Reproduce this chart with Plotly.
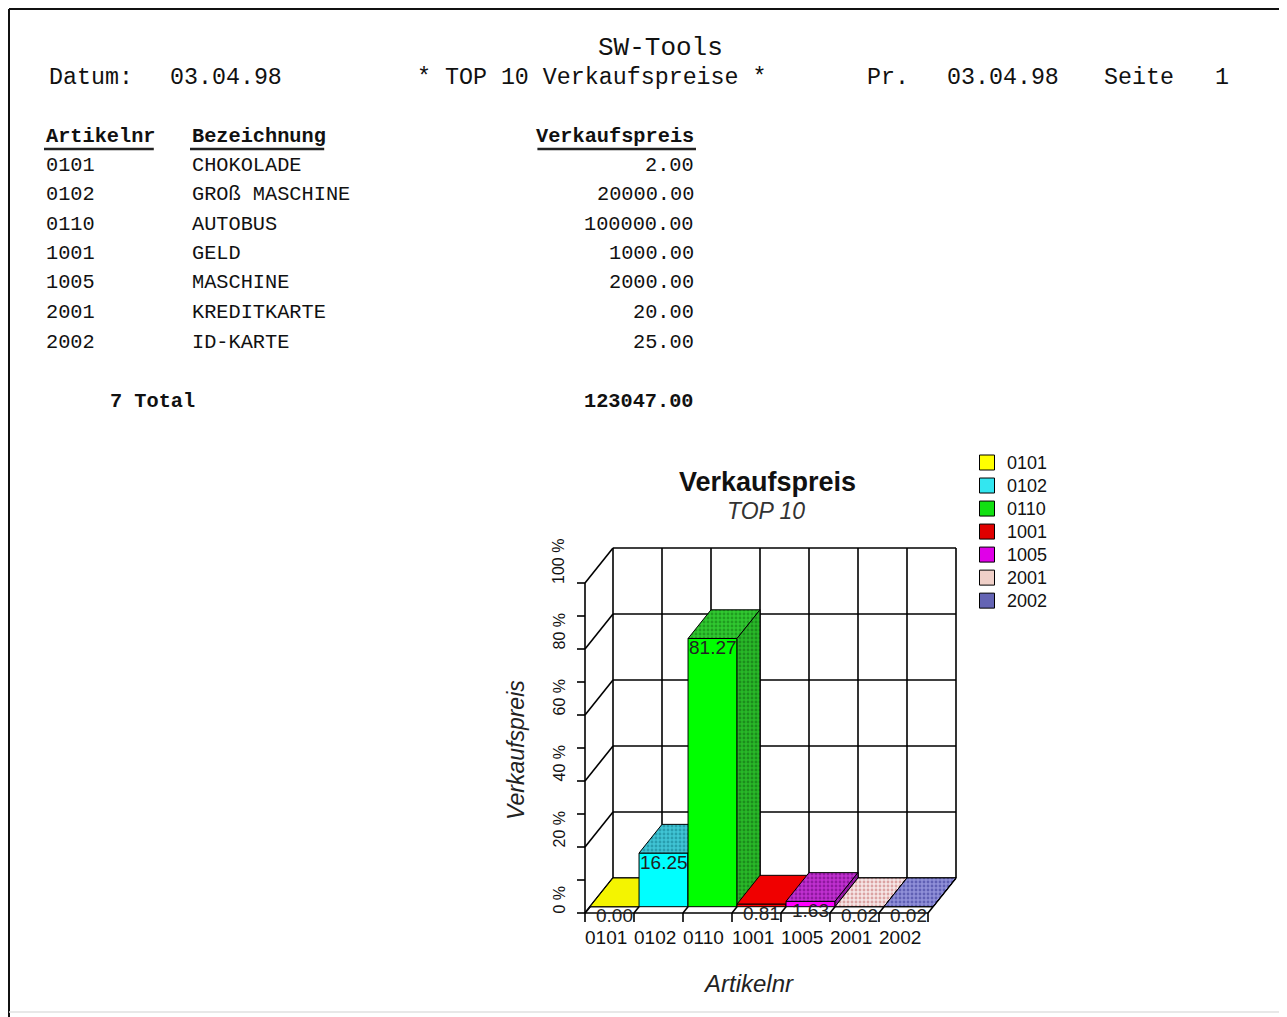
import plotly.graph_objects as go

# ---------------- data ----------------
artikelnr = ["0101", "0102", "0110", "1001", "1005", "2001", "2002"]
bezeichnung = ["CHOKOLADE", "GROß MASCHINE", "AUTOBUS", "GELD", "MASCHINE", "KREDITKARTE", "ID-KARTE"]
verkaufspreis = [2.00, 20000.00, 100000.00, 1000.00, 2000.00, 20.00, 25.00]
y_tick_values = [0, 20, 40, 60, 80, 100]
y_tick_labels = ["0 %", "20 %", "40 %", "60 %", "80 %", "100 %"]
y_minor_ticks = [0, 10, 20, 30, 40, 50, 60, 70, 80, 90, 100]
report_company = "SW-Tools"
report_title = "* TOP 10 Verkaufspreise *"
report_date = "03.04.98"
print_date = "03.04.98"
page_no = "1"
col_headers = ["Artikelnr", "Bezeichnung", "Verkaufspreis"]
chart_title = "Verkaufspreis"
chart_subtitle = "TOP 10"
x_title = "Artikelnr"
y_title = "Verkaufspreis"

total = sum(verkaufspreis)
percent = [v / total * 100.0 for v in verkaufspreis]

# ---------------- style ----------------
front_colors = ["#FFFF00", "#00FFFF", "#00FF00", "#FF0000", "#FF00FF", "#F4DCDC", "#7070C0"]
top_styles = [
    ("#F4F400", None), ("#40C4D4", "#107888"), ("#30C830", "#107010"), ("#F00000", None),
    ("#C030D0", "#600070"), ("#F6E6E6", "#C06060"), ("#9090D8", "#303090"),
]
side_styles = [
    ("#D8D800", None), ("#30A8B8", "#106070"), ("#28B828", "#106010"), ("#C00000", None),
    ("#A020B0", "#500060"), ("#F0E0E0", "#C08080"), ("#7070C0", "#202080"),
]
legend_colors = ["#FFFF00", "#33E6F0", "#11E011", "#E00000", "#E000E8", "#F0D0C8", "#6464B4"]

SCR_W, SCR_H = 1287, 1017
OFF = 8                                     # page body margin
PL, PR, PT, PB = 570, 962, 540, 930        # plot area in screen pixels
PW, PH = PR - PL, PB - PT
X0_PX, Y0_PX = 585, 913                     # front origin pixel
UX, UY = 49.0, 3.3                          # px per category, px per percent
DX, DY = 28 / UX, 35 / UY                   # depth offset in data units
F0 = 0.18                                   # bar front depth fraction
A, B = F0 * DX, F0 * DY
NCAT = len(artikelnr)

mono = "Liberation Mono, Courier New, monospace"
sans = "Liberation Sans, Arial, sans-serif"


def X(px):
    return (px - PL) / PW


def Y(py):
    return (PB - py) / PH


fig = go.Figure()

# ---------------- chart frame / grid ----------------
gx, gy = [], []
for v in y_tick_values:                    # back wall horizontals
    gx += [DX, DX + NCAT, None]
    gy += [v + DY, v + DY, None]
for k in range(NCAT + 1):                  # back wall verticals
    gx += [k + DX, k + DX, None]
    gy += [DY, 100 + DY, None]
for v in y_tick_values:                    # left wall diagonals
    gx += [0, DX, None]
    gy += [v, v + DY, None]
for k in range(NCAT + 1):                  # floor diagonals
    gx += [k, k + DX, None]
    gy += [0, DY, None]
gx += [0, 0, None, 0, NCAT, None]          # front axes
gy += [0, 100, None, 0, 0, None]
tlen = 8 / UX
for v in y_minor_ticks:                    # y ticks
    gx += [0, -tlen, None]
    gy += [v, v, None]
for k in range(NCAT + 1):                  # x ticks
    gx += [k, k, None]
    gy += [0, -9 / UY, None]
fig.add_trace(go.Scatter(x=gx, y=gy, mode="lines", line=dict(color="black", width=1.6),
                         hoverinfo="skip", showlegend=False))


def poly(xs, ys, style):
    bg, fg = style
    kw = dict(x=xs + [xs[0]], y=ys + [ys[0]], mode="lines", fill="toself",
              fillcolor=bg, line=dict(color="black", width=1), hoverinfo="skip", showlegend=False)
    if fg:
        kw["fillpattern"] = dict(shape=".", fgcolor=fg, bgcolor=bg, size=4, solidity=0.4)
    fig.add_trace(go.Scatter(**kw))


# ---------------- bars ----------------
for i, p in enumerate(percent):
    fx = [i + A, i + 1 + A, i + 1 + A, i + A]
    fy = [B, B, p + B, p + B]
    poly(fx, fy, (front_colors[i], None))
    tx = [i + A, i + 1 + A, i + 1 + DX, i + DX]
    ty = [p + B, p + B, p + DY, p + DY]
    poly(tx, ty, top_styles[i])
    sx = [i + 1 + A, i + 1 + DX, i + 1 + DX, i + 1 + A]
    sy = [B, DY, p + DY, p + B]
    poly(sx, sy, side_styles[i])

# ---------------- legend ----------------
for i, a in enumerate(artikelnr):
    fig.add_trace(go.Scatter(x=[None], y=[None], mode="markers",
                             name=f'<span style="font-size:18px">{a}</span>',
                             marker=dict(symbol="square", size=15, color=legend_colors[i],
                                         line=dict(color="black", width=1))))

ann = []
for i, p in enumerate(percent):            # data labels
    ann.append(dict(x=i + 0.5 + A, y=p + B, xref="x", yref="y", text=f"{p:.2f}",
                    showarrow=False, xanchor="center", yanchor="middle", yshift=-9,
                    font=dict(family=sans, size=19, color="#222")))
for v, lab in zip(y_tick_values, y_tick_labels):   # y tick labels
    ann.append(dict(x=0, y=v, xref="x", yref="y", text=lab, showarrow=False, textangle=-90,
                    xanchor="right", yanchor="bottom", xshift=-16, yshift=-3,
                    font=dict(family=sans, size=16, color="#111")))
for i, a in enumerate(artikelnr):          # x category labels
    ann.append(dict(x=i + 0.5, y=0, xref="x", yref="y", text=a, showarrow=False,
                    xanchor="center", yanchor="middle", yshift=-24, xshift=-4,
                    font=dict(family=sans, size=19, color="#111")))


def txt(text, x, y, size, family=mono, anchor="left", color="#111", angle=0):
    ann.append(dict(text=text, x=X(x), y=Y(y), xref="paper", yref="paper", xanchor=anchor,
                    yanchor="middle", showarrow=False, textangle=angle,
                    font=dict(family=family, size=size, color=color)))


# chart titles
txt("<b>" + chart_title + "</b>", 767, 482, 27, sans, "center", "#111")
txt("<i>" + chart_subtitle + "</i>", 766, 511, 23, sans, "center", "#333")
txt("<i>" + y_title + "</i>", 516, 750, 23, sans, "center", "#222", -90)
txt("<i>" + x_title + "</i>", 748, 983, 24, sans, "center", "#222")

# report header
HS = 23.3
txt(report_company, 660, 48, 26, anchor="center")
txt("Datum:", 47, 78, HS)
txt(report_date, 168, 78, HS)
txt(report_title, 415, 78, HS)
txt("Pr.", 865, 78, HS)
txt(print_date, 945, 78, HS)
txt("Seite", 1102, 78, HS)
txt(page_no, 1213, 78, HS)

# table
TS = 20.3
CW = 12.2
col_x = [44, 190, 696]
txt("<b>" + col_headers[0] + "</b>", col_x[0], 136, TS)
txt("<b>" + col_headers[1] + "</b>", col_x[1], 136, TS)
txt("<b>" + col_headers[2] + "</b>", col_x[2], 136, TS, anchor="right")
row_y0, row_dy = 165, 29.5
for r, (a, b, v) in enumerate(zip(artikelnr, bezeichnung, verkaufspreis)):
    yy = row_y0 + r * row_dy
    txt(a, col_x[0], yy, TS)
    txt(b, col_x[1], yy, TS)
    txt(f"{v:.2f}", col_x[2], yy, TS, anchor="right")
txt(f"<b>{len(artikelnr)} Total</b>", 108, 401, TS)
txt(f"<b>{total:.2f}</b>", col_x[2], 401, TS, anchor="right")

shapes = []
hdr_spans = [(col_x[0], col_x[0] + len(col_headers[0]) * CW),
             (col_x[1], col_x[1] + len(col_headers[1]) * CW),
             (col_x[2] - len(col_headers[2]) * CW, col_x[2])]
for x0, x1 in hdr_spans:
    shapes.append(dict(type="line", xref="paper", yref="paper", x0=X(x0), x1=X(x1),
                       y0=Y(149), y1=Y(149), line=dict(color="#222", width=2.5)))
# page frame (sunken border)
shapes += [
    dict(type="line", xref="paper", yref="paper", x0=X(9), x1=X(9), y0=Y(9), y1=Y(1017),
         line=dict(color="#111", width=2)),
    dict(type="line", xref="paper", yref="paper", x0=X(9), x1=X(1282), y0=Y(9), y1=Y(9),
         line=dict(color="#111", width=2)),
    dict(type="line", xref="paper", yref="paper", x0=X(1282), x1=X(1282), y0=Y(9), y1=Y(1012),
         line=dict(color="#d8d8d8", width=1.5)),
    dict(type="line", xref="paper", yref="paper", x0=X(9), x1=X(1282), y0=Y(1012), y1=Y(1012),
         line=dict(color="#e0e0e0", width=1.5)),
]

fig.update_layout(
    width=SCR_W - OFF, height=SCR_H - OFF, autosize=False,
    margin=dict(l=PL - OFF, r=SCR_W - PR, t=PT - OFF, b=SCR_H - PB, pad=0),
    paper_bgcolor="white", plot_bgcolor="white",
    xaxis=dict(visible=False, range=[(PL - X0_PX) / UX, (PR - X0_PX) / UX], fixedrange=True),
    yaxis=dict(visible=False, range=[(Y0_PX - PB) / UY, (Y0_PX - PT) / UY], fixedrange=True),
    showlegend=True,
    legend=dict(x=X(967), y=Y(446), xanchor="left", yanchor="top", tracegroupgap=0,
                font=dict(family=sans, size=15.4, color="#111"), bgcolor="rgba(0,0,0,0)"),
    annotations=ann, shapes=shapes,
    font=dict(family=sans),
)

fig.write_html("out.html")
